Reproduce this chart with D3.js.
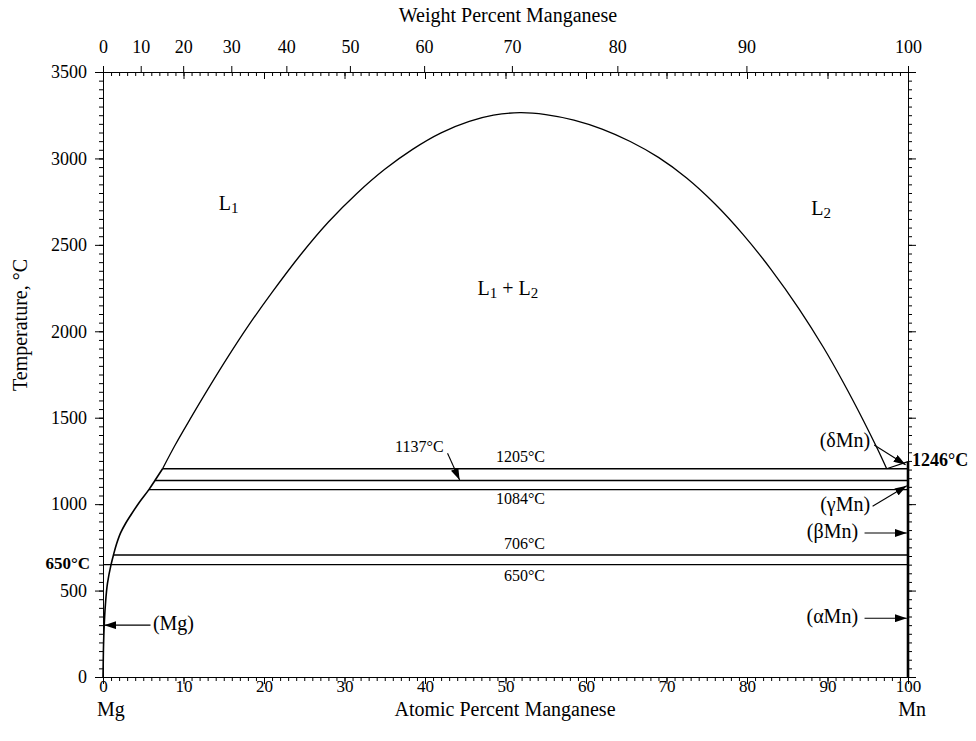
<!DOCTYPE html>
<html>
<head>
<meta charset="utf-8">
<script src="https://cdn.jsdelivr.net/npm/d3@7"></script>
<style>
  html, body { margin: 0; padding: 0; background: #fff; }
  svg { display: block; }
  text { font-family: "Liberation Serif", "Times New Roman", serif; fill: #000; }
</style>
</head>
<body>
<svg id="chart" width="976" height="741"></svg>
<script>
// Mg–Mn phase diagram: temperature (°C) vs. atomic percent Mn

// Liquidus on the Mg-rich side, from the (Mg) solvus up to the monotectic at 1205 °C
const liqMgAt = [0, 0.05, 0.15, 0.3, 0.55, 1.0, 1.3, 1.7, 2.2, 2.8, 3.5, 4.5, 5.7, 6.45, 7.4];
const liqMgT  = [0, 150, 300, 420, 540, 650, 706, 772, 835, 888, 940, 1010, 1084, 1137, 1205];

// Liquid miscibility gap L1 + L2
const gapAt = [7.4, 9.0, 10.8, 13.0, 15.5, 18.0, 21.0, 24.5, 28.0, 31.5, 35.0, 38.5, 42.0, 45.5, 48.5, 51.8,
               55.0, 58.5, 62.0, 65.5, 69.0, 72.5, 76.0, 79.5, 83.0, 86.5, 89.5, 92.0, 94.5, 96.2, 97.35];
const gapT  = [1205, 1345, 1490, 1662, 1850, 2028, 2225, 2440, 2632, 2796, 2937, 3054, 3148, 3214, 3250, 3265,
               3254, 3222, 3170, 3098, 3006, 2887, 2738, 2561, 2357, 2127, 1906, 1701, 1480, 1320, 1205];

// Invariant isotherms: temperature and left end (at.% Mn)
const isoT     = [1205, 1137, 1084, 706, 650];
const isoStart = [7.4, 6.45, 5.7, 1.3, 0];

// Melting point of pure Mn
const mnMeltT = 1246;

// Axis ticks
const atTicks = [0, 10, 20, 30, 40, 50, 60, 70, 80, 90, 100];
const wtTicks = [0, 10, 20, 30, 40, 50, 60, 70, 80, 90, 100];
const tTicks  = [0, 500, 1000, 1500, 2000, 2500, 3000, 3500];

// Molar masses for the weight → atomic conversion of the top axis
const massMg = 24.305, massMn = 54.938;
const wtToAt = w => w === 100 ? 100 : 100 * (w / massMn) / (w / massMn + (100 - w) / massMg);

const svg = d3.select("#chart");
const x = d3.scaleLinear().domain([0, 100]).range([103, 908]);
const y = d3.scaleLinear().domain([0, 3500]).range([677, 72]);

const defs = svg.append("defs");
defs.append("marker")
  .attr("id", "head")
  .attr("viewBox", "0 0 12 8")
  .attr("refX", 12).attr("refY", 4)
  .attr("markerWidth", 12).attr("markerHeight", 8)
  .attr("markerUnits", "userSpaceOnUse")
  .attr("orient", "auto")
  .append("path").attr("d", "M0,0 L12,4 L0,8 Z").attr("fill", "#000");

function styleAxis(g, fs) {
  g.select(".domain").attr("stroke", "#000").attr("stroke-width", 1);
  g.selectAll(".tick line").attr("stroke", "#000").attr("stroke-width", 1);
  g.selectAll(".tick text").style("font-family", "Liberation Serif").style("font-size", fs + "px").attr("fill", "#000");
}

// Bottom axis: atomic percent
svg.append("g").attr("transform", "translate(0,677)")
  .call(d3.axisBottom(x).tickValues(d3.range(0, 101, 1)).tickSize(4).tickFormat(""))
  .call(g => styleAxis(g, 17));
svg.append("g").attr("transform", "translate(0,677)")
  .call(d3.axisBottom(x).tickValues(atTicks).tickSize(7).tickFormat(""))
  .call(g => styleAxis(g, 17));
svg.append("g").attr("transform", "translate(0,677)")
  .call(d3.axisBottom(x).tickValues(atTicks).tickSize(0).tickPadding(3).tickFormat(d3.format("d")))
  .call(g => styleAxis(g, 17))
  .call(g => g.select(".domain").remove());

// Top axis: inner atomic-percent ticks plus outer weight-percent scale
svg.append("g").attr("transform", "translate(0,72)")
  .call(d3.axisTop(x).tickValues(d3.range(0, 101, 1)).tickSize(-4).tickFormat(""))
  .call(g => styleAxis(g, 18));
svg.append("g").attr("transform", "translate(0,72)")
  .call(d3.axisTop(x).tickValues(atTicks).tickSize(-7).tickFormat(""))
  .call(g => styleAxis(g, 18));
svg.append("g").attr("transform", "translate(0,72)")
  .call(d3.axisTop(x).tickValues(wtTicks.map(wtToAt)).tickSize(6).tickPadding(13)
    .tickFormat((d, i) => wtTicks[i]))
  .call(g => styleAxis(g, 18));

// Left axis: temperature
svg.append("g").attr("transform", "translate(103,0)")
  .call(d3.axisLeft(y).tickValues(d3.range(0, 3501, 50)).tickSize(4).tickFormat(""))
  .call(g => styleAxis(g, 18));
svg.append("g").attr("transform", "translate(103,0)")
  .call(d3.axisLeft(y).tickValues(tTicks).tickSize(8).tickPadding(8).tickFormat(d3.format("d")))
  .call(g => styleAxis(g, 18));

// Right axis
svg.append("g").attr("transform", "translate(908,0)")
  .call(d3.axisRight(y).tickValues(d3.range(0, 3501, 50)).tickSize(4).tickFormat(""))
  .call(g => styleAxis(g, 18));
svg.append("g").attr("transform", "translate(908,0)")
  .call(d3.axisRight(y).tickValues(tTicks).tickSize(8).tickFormat(""))
  .call(g => styleAxis(g, 18));

// Phase boundaries
const plot = svg.append("g").attr("fill", "none").attr("stroke", "#000");

const liqLine = d3.line().x(d => x(d[0])).y(d => y(d[1])).curve(d3.curveMonotoneY);
plot.append("path").attr("d", liqLine(liqMgAt.map((a, i) => [a, liqMgT[i]]))).attr("stroke-width", 1.6);

const gapLine = d3.line().x(d => x(d[0])).y(d => y(d[1])).curve(d3.curveCatmullRom.alpha(0.5));
plot.append("path").attr("d", gapLine(gapAt.map((a, i) => [a, gapT[i]]))).attr("stroke-width", 1.3);

// (δMn) liquidus from the monotectic to the Mn melting point
plot.append("line")
  .attr("x1", x(gapAt[gapAt.length - 1])).attr("y1", y(1205))
  .attr("x2", x(100)).attr("y2", y(mnMeltT)).attr("stroke-width", 1.2);

// Isotherms
isoT.forEach((t, i) => {
  plot.append("line")
    .attr("x1", x(isoStart[i])).attr("x2", x(100))
    .attr("y1", y(t)).attr("y2", y(t)).attr("stroke-width", 1.4);
});

// Pure Mn up to its melting point
plot.append("line")
  .attr("x1", x(100)).attr("x2", x(100)).attr("y1", y(0)).attr("y2", y(mnMeltT))
  .attr("stroke-width", 2.6);

// Isotherm labels
const isoLabels = [
  { t: 1205, text: "1205°C", dy: -10 },
  { t: 1084, text: "1084°C", dy: 11 },
  { t: 706,  text: "706°C",  dy: -10 },
  { t: 650,  text: "650°C",  dy: 13 }
];
isoLabels.forEach(d => {
  svg.append("text").attr("x", 545).attr("y", y(d.t) + d.dy)
    .attr("text-anchor", "end").attr("dominant-baseline", "middle")
    .style("font-size", "16px").text(d.text);
});

// Arrows pointing at the narrow fields: from [at.%, T] to [at.%, T]
const arrows = [
  { from: [5.9, 300],   to: [0.15, 300] },
  { from: [94.6, 340],  to: [99.85, 340] },
  { from: [94.6, 833],  to: [99.85, 833] },
  { from: [95.6, 988],  to: [99.85, 1106] },
  { from: [95.8, 1342], to: [99.7, 1228] },
  { from: [42.8, 1294], to: [44.3, 1140] }
];
arrows.forEach(a => {
  svg.append("line")
    .attr("x1", x(a.from[0])).attr("y1", y(a.from[1]))
    .attr("x2", x(a.to[0])).attr("y2", y(a.to[1]))
    .attr("stroke", "#000").attr("stroke-width", 1.1)
    .attr("marker-end", "url(#head)");
});

const notes = [
  { at: 6.2,  t: 300,  text: "(Mg)",   anchor: "start" },
  { at: 93.8, t: 340,  text: "(αMn)",  anchor: "end" },
  { at: 93.8, t: 833,  text: "(βMn)",  anchor: "end" },
  { at: 95.3, t: 988,  text: "(γMn)",  anchor: "end" },
  { at: 95.3, t: 1355, text: "(δMn)",  anchor: "end" },
  { at: 39.3, t: 1322, text: "1137°C", anchor: "middle", size: 16 }
];
notes.forEach(n => {
  svg.append("text").attr("x", x(n.at)).attr("y", y(n.t))
    .attr("text-anchor", n.anchor).attr("dominant-baseline", "middle")
    .style("font-size", (n.size || 20) + "px").text(n.text);
});

// Bold melting points
svg.append("text").attr("x", 912).attr("y", y(mnMeltT)).attr("dominant-baseline", "middle")
  .style("font-size", "18px").style("font-weight", "bold").text("1246°C");
svg.append("text").attr("x", 90).attr("y", y(650)).attr("text-anchor", "end").attr("dominant-baseline", "middle")
  .style("font-size", "17px").style("font-weight", "bold").text("650°C");

// Phase fields
function phaseLabel(cx, cy, parts) {
  const t = svg.append("text").attr("x", cx).attr("y", cy).attr("text-anchor", "middle")
    .attr("dominant-baseline", "middle").style("font-size", "20px");
  parts.forEach(p => {
    const s = t.append("tspan").text(p.s);
    if (p.sub) s.attr("baseline-shift", "-30%").style("font-size", "15px");
  });
}
phaseLabel(x(15.6), y(2730), [{ s: "L" }, { s: "1", sub: true }]);
phaseLabel(x(89.2), y(2700), [{ s: "L" }, { s: "2", sub: true }]);
phaseLabel(x(50.3), y(2240), [{ s: "L" }, { s: "1", sub: true }, { s: " + L" }, { s: "2", sub: true }]);

// Axis titles
svg.append("text").attr("x", 508).attr("y", 17).attr("text-anchor", "middle").attr("dominant-baseline", "middle")
  .style("font-size", "20px").text("Weight Percent Manganese");
svg.append("text").attr("x", 505).attr("y", 711).attr("text-anchor", "middle").attr("dominant-baseline", "middle")
  .style("font-size", "20px").text("Atomic Percent Manganese");
svg.append("text").attr("x", 97).attr("y", 711).attr("dominant-baseline", "middle")
  .style("font-size", "20px").text("Mg");
svg.append("text").attr("x", 926).attr("y", 711).attr("text-anchor", "end").attr("dominant-baseline", "middle")
  .style("font-size", "20px").text("Mn");
svg.append("text").attr("transform", "translate(22,325) rotate(-90)")
  .attr("text-anchor", "middle").attr("dominant-baseline", "middle")
  .style("font-size", "20px").text("Temperature, °C");
</script>
</body>
</html>
